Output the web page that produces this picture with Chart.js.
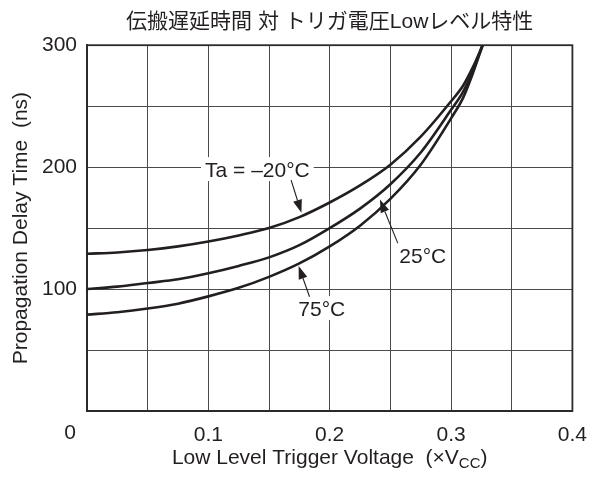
<!DOCTYPE html>
<html>
<head>
<meta charset="utf-8">
<script src="https://cdn.jsdelivr.net/npm/chart.js@4.4.1/dist/chart.umd.min.js"></script>
<style>
  html, body { margin: 0; padding: 0; background: #ffffff; }
  canvas { display: block; }
</style>
</head>
<body>
<canvas id="c" width="599" height="479"></canvas>
<script>
// ---- data ----
const triggerVoltage = [0, 0.025, 0.05, 0.075, 0.1, 0.125, 0.15, 0.175, 0.2, 0.225, 0.25, 0.275, 0.3, 0.31, 0.318, 0.326];
const delayMinus20 = [129, 130, 132, 135, 139, 144, 150, 159, 171, 185, 202, 225, 254, 267, 282, 300];
const delay25      = [100, 102, 105, 108, 113, 119, 126, 136, 150, 166, 186, 212, 247, 262, 279, 300];
const delay75      = [79, 81, 84, 88, 94, 101, 110, 121, 135, 152, 174, 202, 240, 257, 277, 300];
const seriesLabels = ['Ta = –20°C', '25°C', '75°C'];
const xTickLabels = ['0.1', '0.2', '0.3', '0.4'];
const yTickLabels = ['100', '200', '300'];

const chartTitle = '伝搬遅延時間 対 トリガ電圧Lowレベル特性';
const yTitle = 'Propagation Delay Time  (ns)';

// annotation labels with arrows (in data units)
const notes = [
  { text: seriesLabels[0], x: 0.1404, y: 198.4, from: [0.1682, 189.3], to: [0.1767, 162.5] },
  { text: seriesLabels[1], x: 0.2767, y: 127.9, from: [0.2561, 137.7], to: [0.2414, 173.5] },
  { text: seriesLabels[2], x: 0.1935, y: 84.4,  from: [0.1834, 93.7],  to: [0.1744, 118.9] }
];

const FONT = "'Liberation Sans', Arial, Helvetica, sans-serif";
const INK = '#231f20';
const FS = 21;

function toXY(ys) { return triggerVoltage.map((x, i) => ({ x: x, y: ys[i] })); }

const decor = {
  id: 'decor',
  beforeDatasetsDraw(chart) {
    const ctx = chart.ctx, a = chart.chartArea;
    ctx.save();
    ctx.strokeStyle = '#2b2b2b';
    ctx.lineWidth = 1.8;
    ctx.strokeRect(a.left, a.top, a.right - a.left, a.bottom - a.top);
    ctx.restore();
  },
  afterDatasetsDraw(chart) {
    const ctx = chart.ctx, xs = chart.scales.x, ys = chart.scales.y;
    ctx.save();
    ctx.font = FS + 'px ' + FONT;
    ctx.textAlign = 'center';
    ctx.textBaseline = 'alphabetic';
    notes.forEach(n => {
      const cx = xs.getPixelForValue(n.x), cy = ys.getPixelForValue(n.y);
      const w = ctx.measureText(n.text).width;
      ctx.fillStyle = '#ffffff';
      ctx.fillRect(cx - w / 2 - 4, cy - 12, w + 8, 24);
      ctx.fillStyle = INK;
      ctx.fillText(n.text, cx, cy + 7.5);
      // arrow
      const x0 = xs.getPixelForValue(n.from[0]), y0 = ys.getPixelForValue(n.from[1]);
      const x1 = xs.getPixelForValue(n.to[0]), y1 = ys.getPixelForValue(n.to[1]);
      const ang = Math.atan2(y1 - y0, x1 - x0);
      const hl = 13, hw = 4.5;
      ctx.strokeStyle = INK;
      ctx.lineWidth = 1.1;
      ctx.beginPath();
      ctx.moveTo(x0, y0);
      ctx.lineTo(x1 - Math.cos(ang) * hl, y1 - Math.sin(ang) * hl);
      ctx.stroke();
      ctx.beginPath();
      ctx.moveTo(x1, y1);
      ctx.lineTo(x1 - Math.cos(ang) * hl - Math.sin(ang) * hw, y1 - Math.sin(ang) * hl + Math.cos(ang) * hw);
      ctx.lineTo(x1 - Math.cos(ang) * hl + Math.sin(ang) * hw, y1 - Math.sin(ang) * hl - Math.cos(ang) * hw);
      ctx.closePath();
      ctx.fillStyle = INK;
      ctx.fill();
    });
    // origin label "0"
    ctx.fillStyle = INK;
    ctx.fillText('0', 70, 439);
    // x axis title with subscript
    const main = 'Low Level Trigger Voltage  (×V', sub = 'CC', tail = ')';
    ctx.font = FS + 'px ' + FONT;
    const w1 = ctx.measureText(main).width, w3 = ctx.measureText(tail).width;
    ctx.font = '15px ' + FONT;
    const w2 = ctx.measureText(sub).width;
    const total = w1 + w2 + w3;
    let sx = (xs.left + xs.right) / 2 - total / 2;
    const base = 464;
    ctx.textAlign = 'left';
    ctx.font = FS + 'px ' + FONT;
    ctx.fillText(main, sx, base);
    ctx.font = '15px ' + FONT;
    ctx.fillText(sub, sx + w1, base + 4);
    ctx.font = FS + 'px ' + FONT;
    ctx.fillText(tail, sx + w1 + w2, base);
    ctx.restore();
  }
};

const lineStyle = {
  borderColor: INK,
  borderWidth: 2.6,
  pointRadius: 0,
  fill: false,
  cubicInterpolationMode: 'monotone'
};

new Chart(document.getElementById('c'), {
  type: 'line',
  data: {
    datasets: [
      Object.assign({ label: seriesLabels[0], data: toXY(delayMinus20) }, lineStyle),
      Object.assign({ label: seriesLabels[1], data: toXY(delay25) }, lineStyle),
      Object.assign({ label: seriesLabels[2], data: toXY(delay75) }, lineStyle)
    ]
  },
  options: {
    responsive: false,
    animation: false,
    devicePixelRatio: 1,
    layout: { padding: { left: 0, right: 22, top: 0, bottom: 0 } },
    plugins: {
      legend: { display: false },
      tooltip: { enabled: false },
      title: {
        display: true,
        text: chartTitle,
        fullSize: false,
        color: INK,
        font: { family: FONT + ", 'Noto Sans CJK JP'", size: 21, weight: 'normal' },
        padding: { top: 10, bottom: 10 }
      }
    },
    scales: {
      x: {
        type: 'linear',
        min: 0, max: 0.4,
        afterFit(s) { s.height = 68; },
        border: { display: true, color: '#2b2b2b', width: 1.8 },
        grid: { color: '#4a4a4a', lineWidth: 1, drawTicks: false },
        ticks: {
          stepSize: 0.05,
          padding: 12,
          color: INK,
          font: { family: FONT, size: FS },
          maxRotation: 0,
          autoSkip: false,
          callback(v) {
            const k = Math.round(v * 100);
            if (k === 0 || k % 10 !== 0) return '';
            return xTickLabels[k / 10 - 1];
          }
        }
      },
      y: {
        min: 0, max: 300,
        afterFit(s) { s.width = 87; },
        border: { display: true, color: '#2b2b2b', width: 1.8 },
        grid: { color: '#4a4a4a', lineWidth: 1, drawTicks: false },
        ticks: {
          stepSize: 50,
          padding: 10,
          color: INK,
          font: { family: FONT, size: FS },
          autoSkip: false,
          callback(v) {
            const k = Math.round(v);
            if (k === 0 || k % 100 !== 0) return '';
            return yTickLabels[k / 100 - 1];
          }
        },
        title: {
          display: true,
          text: yTitle,
          color: INK,
          font: { family: FONT, size: FS },
          padding: { top: 9, bottom: 0 }
        }
      }
    }
  },
  plugins: [decor]
});
</script>
</body>
</html>
